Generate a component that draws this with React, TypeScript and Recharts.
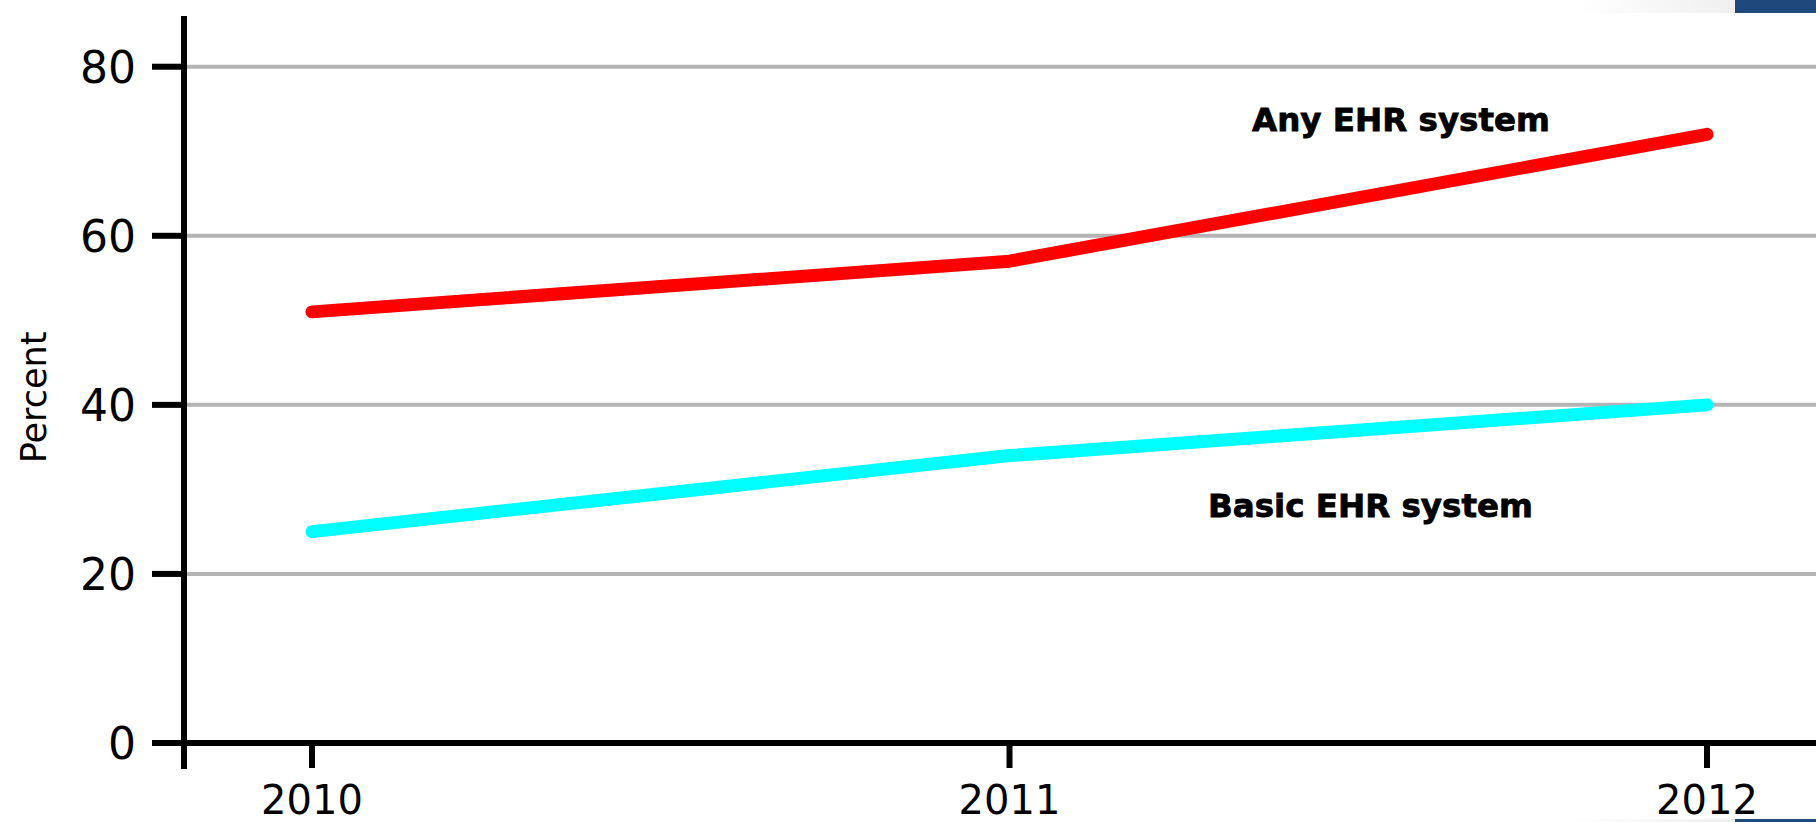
import { LineChart, Line, XAxis, YAxis, CartesianGrid } from 'recharts';

// EHR adoption among office-based physicians, percent
const years = ['2010', '2011', '2012'];
const anyEhr = [51, 57, 72];
const basicEhr = [25, 34, 40];
const yTicks = [0, 20, 40, 60, 80];
const gridValues = [20, 40, 60, 80];

const data = years.map((year, i) => ({ year, any: anyEhr[i], basic: basicEhr[i] }));

const WIDTH = 1816;
const HEIGHT = 822;
const Y_TICK_SIZE = 32;
const Y_TICK_MARGIN = 16;
const AXIS_STROKE = 6;
const FONT = '"DejaVu Sans", Verdana, sans-serif';

// y tick label; the 0 tick also carries the short stub of the y axis below the x axis
function renderYTick(props: any) {
  const { x, y, payload } = props;
  const axisX = x + Y_TICK_SIZE + Y_TICK_MARGIN;
  return (
    <g>
      <text x={x} y={y} dy="0.36em" textAnchor="end" fontSize={44} fontFamily={FONT} fill="#000">
        {payload.value}
      </text>
      {payload.value === 0 && (
        <line x1={axisX} x2={axisX} y1={y} y2={y + 26} stroke="#000" strokeWidth={AXIS_STROKE} />
      )}
    </g>
  );
}

function renderPercentLabel(props: any) {
  const vb = props?.viewBox ?? { x: 0, y: 16, width: 184, height: 727 };
  const cx = vb.x + 34;
  const cy = vb.y + vb.height / 2 + 18;
  return (
    <text
      x={cx}
      y={cy}
      transform={`rotate(-90, ${cx}, ${cy})`}
      textAnchor="middle"
      dominantBaseline="central"
      fontSize={35}
      fontFamily={FONT}
      fill="#000"
    >
      Percent
    </text>
  );
}

const seriesLabelStyle = {
  fontFamily: FONT,
  fontWeight: 'bold' as const,
  fontSize: 32.5,
  fill: '#000',
  stroke: '#000',
  strokeWidth: 0.8,
};

export default function App() {
  return (
    <div
      style={{
        position: 'absolute',
        left: 0,
        top: 0,
        width: WIDTH,
        height: HEIGHT,
        background: '#fff',
        overflow: 'hidden',
      }}
    >
      <LineChart width={WIDTH} height={HEIGHT} data={data} margin={{ top: 16, right: 0, bottom: 0, left: 0 }}>
        <CartesianGrid vertical={false} horizontalValues={gridValues} stroke="#b4b4b4" strokeWidth={4} />
        <XAxis
          dataKey="year"
          height={79}
          padding={{ left: 128, right: 109 }}
          axisLine={{ stroke: '#000', strokeWidth: AXIS_STROKE }}
          tickLine={{ stroke: '#000', strokeWidth: AXIS_STROKE }}
          tickSize={25}
          tickMargin={18}
          tick={{ fontSize: 40, fill: '#000', fontFamily: FONT }}
          interval={0}
        />
        <YAxis
          width={184}
          domain={[0, 86]}
          ticks={yTicks}
          interval={0}
          axisLine={{ stroke: '#000', strokeWidth: AXIS_STROKE }}
          tickLine={{ stroke: '#000', strokeWidth: AXIS_STROKE }}
          tickSize={Y_TICK_SIZE}
          tickMargin={Y_TICK_MARGIN}
          tick={renderYTick}
          label={renderPercentLabel}
        />
        <Line
          type="linear"
          dataKey="basic"
          stroke="#00ffff"
          strokeWidth={13}
          strokeLinecap="round"
          strokeLinejoin="round"
          dot={false}
          activeDot={false}
          isAnimationActive={false}
        />
        <Line
          type="linear"
          dataKey="any"
          stroke="#ff0000"
          strokeWidth={13}
          strokeLinecap="round"
          strokeLinejoin="round"
          dot={false}
          activeDot={false}
          isAnimationActive={false}
        />
      </LineChart>

      {/* series names set beside their lines */}
      <svg
        width={WIDTH}
        height={HEIGHT}
        style={{ position: 'absolute', left: 0, top: 0, pointerEvents: 'none' }}
      >
        <text x={1252} y={131} {...seriesLabelStyle}>
          Any EHR system
        </text>
        <text x={1208} y={517} {...seriesLabelStyle}>
          Basic EHR system
        </text>
      </svg>

      {/* page chrome in the corners */}
      <div
        style={{
          position: 'absolute',
          top: 0,
          left: 1577,
          width: 158,
          height: 13,
          background: 'linear-gradient(to right, #ffffff, #efefef)',
        }}
      />
      <div style={{ position: 'absolute', top: 0, left: 1735, width: 81, height: 13, background: '#1f497d' }} />
      <div
        style={{
          position: 'absolute',
          top: 819,
          left: 1567,
          width: 168,
          height: 3,
          background: 'linear-gradient(to right, #ffffff, #efefef)',
        }}
      />
      <div style={{ position: 'absolute', top: 819, left: 1735, width: 81, height: 3, background: '#1f497d' }} />
    </div>
  );
}
